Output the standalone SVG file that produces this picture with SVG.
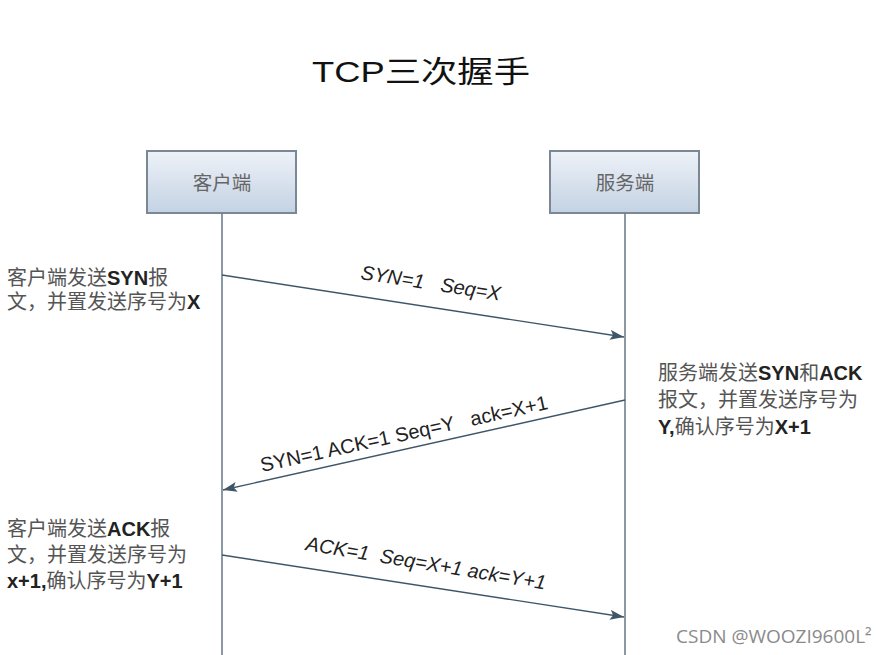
<svg xmlns="http://www.w3.org/2000/svg" width="890" height="655" viewBox="0 0 890 655">
<defs>
<linearGradient id="boxg" x1="0" y1="0" x2="0" y2="1">
<stop offset="0" stop-color="#eef2f8"/>
<stop offset="1" stop-color="#c3d2e3"/>
</linearGradient>
<marker id="ah" viewBox="0 0 14 10" refX="14" refY="5" markerWidth="14" markerHeight="10" markerUnits="userSpaceOnUse" orient="auto">
<path d="M0,0 L14,5 L0,10 L3,5 Z" fill="#3f5668"/>
</marker>
<style>
.box{fill:url(#boxg);stroke:#7b8894;stroke-width:2}
.boxt{font-family:"Liberation Serif","Noto Sans CJK SC",serif;font-size:19.5px;fill:#666;text-anchor:middle}
.life{stroke:#6f7e8b;stroke-width:1.6;fill:none}
.msg{stroke:#3f5668;stroke-width:1.4;fill:none;marker-end:url(#ah)}
.lbl{font-family:"Liberation Sans","Noto Sans CJK SC",sans-serif;font-size:20px;fill:#222}
.it{font-style:italic}
.note{font-family:"Liberation Sans","Noto Sans CJK SC",sans-serif;font-size:20px;fill:#555}
.b{font-weight:bold;fill:#222}
</style>
</defs>
<rect width="890" height="655" fill="#fff"/>
<text x="421" y="82" text-anchor="middle" font-family="Liberation Sans,'Noto Sans CJK SC',sans-serif" font-size="30" fill="#111" textLength="218" lengthAdjust="spacingAndGlyphs">TCP三次握手</text>
<g id="client">
<rect class="box" x="147" y="151" width="149" height="62"/>
<text class="boxt" x="222" y="190">客户端</text>
</g>
<g id="server">
<rect class="box" x="550" y="151" width="149" height="62"/>
<text class="boxt" x="625" y="190">服务端</text>
</g>
<g id="connectors">
<line class="life" x1="222" y1="213" x2="222" y2="655"/>
<line class="life" x1="625" y1="213" x2="625" y2="655"/>
<line class="msg" x1="222" y1="275" x2="624" y2="337"/>
<line class="msg" x1="625" y1="400" x2="223" y2="490"/>
<line class="msg" x1="222" y1="555" x2="624" y2="617"/>
</g>
<g id="label1">
<text class="lbl it" transform="translate(360,279) rotate(8.8)" xml:space="preserve">SYN=1   Seq=X</text>
</g>
<g id="label2">
<text class="lbl" transform="translate(262,472) rotate(-12.4)" xml:space="preserve">SYN=1 ACK=1 Seq=Y   ack=X+1</text>
</g>
<g id="label3">
<text class="lbl it" transform="translate(305,550) rotate(9.4)" xml:space="preserve">ACK=1  Seq=X+1 ack=Y+1</text>
</g>
<g id="note1">
<text class="note" x="7" y="285">客户端发送<tspan class="b">SYN</tspan>报</text>
<text class="note" x="7" y="309">文，并置发送序号为<tspan class="b">X</tspan></text>
</g>
<g id="note2">
<text class="note" x="658" y="380">服务端发送<tspan class="b">SYN</tspan>和<tspan class="b">ACK</tspan></text>
<text class="note" x="658" y="407">报文，并置发送序号为</text>
<text class="note" x="658" y="434"><tspan class="b">Y,</tspan>确认序号为<tspan class="b">X+1</tspan></text>
</g>
<g id="note3">
<text class="note" x="7" y="536">客户端发送<tspan class="b">ACK</tspan>报</text>
<text class="note" x="7" y="562">文，并置发送序号为</text>
<text class="note" x="7" y="588"><tspan class="b">x+1,</tspan>确认序号为<tspan class="b">Y+1</tspan></text>
</g>
<text x="676" y="643" font-family="'Open Sans','Noto Sans',sans-serif" font-size="19" fill="#8a8a8a">CSDN @WOOZI9600L²</text>
</svg>
